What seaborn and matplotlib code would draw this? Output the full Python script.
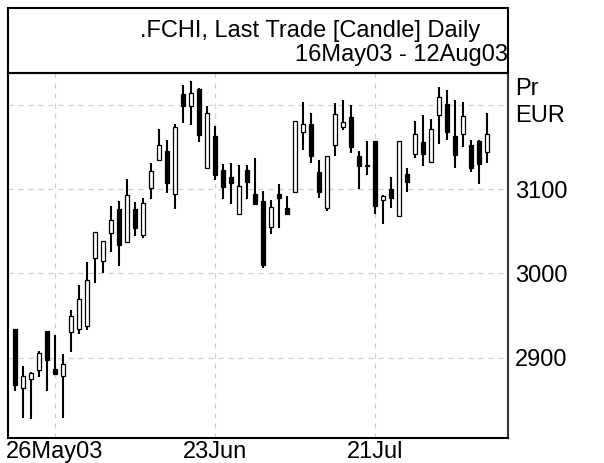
import numpy as np
import pandas as pd
import matplotlib
matplotlib.use("Agg")
import matplotlib.pyplot as plt
from matplotlib.patches import Rectangle
import seaborn as sns

# ---- data ----
opens = [2934, 2864, 2875, 2885, 2931, 2886, 2878, 2930, 2934, 2937,
         3018, 3015, 3048, 3076, 3037, 3076, 3046, 3101, 3135, 3145,
         3094, 3213, 3199, 3219, 3125, 3163, 3123, 3114, 3070, 3123,
         3094, 3086, 3055, 3094, 3078, 3097, 3168, 3178, 3120, 3078,
         3152, 3174, 3186, 3139, 3128, 3157, 3087, 3100, 3068, 3118,
         3142, 3156, 3132, 3188, 3201, 3163, 3166, 3153, 3157, 3144]
highs = [2934, 2890, 2883, 2908, 2931, 2927, 2904, 2956, 2986, 3013,
         3049, 3039, 3080, 3086, 3112, 3085, 3090, 3131, 3171, 3159,
         3178, 3224, 3228, 3220, 3199, 3175, 3130, 3131, 3129, 3129,
         3137, 3098, 3087, 3106, 3092, 3181, 3204, 3190, 3135, 3140,
         3202, 3206, 3200, 3145, 3157, 3157, 3093, 3114, 3157, 3125,
         3181, 3188, 3183, 3221, 3218, 3206, 3204, 3158, 3158, 3190]
lows = [2860, 2828, 2827, 2877, 2860, 2880, 2828, 2907, 2928, 2933,
        2989, 3001, 3025, 3009, 3037, 3044, 3042, 3088, 3133, 3096,
        3076, 3179, 3176, 3156, 3125, 3111, 3088, 3082, 3070, 3088,
        3082, 3006, 3047, 3054, 3070, 3097, 3146, 3131, 3090, 3074,
        3139, 3170, 3143, 3100, 3117, 3070, 3059, 3078, 3068, 3097,
        3137, 3128, 3132, 3154, 3158, 3125, 3150, 3120, 3106, 3131]
closes = [2867, 2878, 2882, 2905, 2897, 2881, 2892, 2949, 2970, 2992,
          3049, 3039, 3063, 3034, 3093, 3054, 3084, 3122, 3153, 3107,
          3174, 3199, 3214, 3164, 3190, 3117, 3103, 3107, 3104, 3108,
          3082, 3010, 3079, 3090, 3071, 3181, 3177, 3139, 3097, 3139,
          3189, 3180, 3150, 3128, 3128, 3080, 3092, 3089, 3157, 3109,
          3165, 3142, 3171, 3210, 3168, 3141, 3187, 3125, 3130, 3166]
dates = pd.bdate_range("2003-05-19", periods=len(opens))

xtick_dates = ["2003-05-26", "2003-06-23", "2003-07-21"]
xtick_labels = ["26May03", "23Jun", "21Jul"]
ytick_values = [2900, 3000, 3100]
ygrid_values = [2900, 3000, 3100, 3200]
unit_labels = ["Pr", "EUR"]
title_line1 = ".FCHI, Last Trade [Candle] Daily"
title_line2 = "16May03 - 12Aug03"

# ---- style ----
sns.set_theme(style="white")
plt.rcParams["font.family"] = ["Liberation Sans", "DejaVu Sans"]
plt.rcParams["text.color"] = "black"
plt.rcParams["xtick.color"] = "black"
plt.rcParams["ytick.color"] = "black"

W, H = 604, 463
fig = plt.figure(figsize=(W / 100, H / 100), dpi=100, facecolor="white")
ax_l, ax_r, ax_t, ax_b = 8, 508, 72.7, 438
ax = fig.add_axes([ax_l / W, 1 - ax_b / H, (ax_r - ax_l) / W, (ax_b - ax_t) / H])
ax.set_facecolor("white")

df = pd.DataFrame(dict(date=dates, open=opens, high=highs, low=lows, close=closes))
df["idx"] = np.arange(len(df))
up = (df["close"] >= df["open"]).to_numpy()

# gridlines
for yv in ygrid_values:
    ax.axhline(yv, color="#cfcfcf", lw=0.9, ls=(0, (4, 4)), zorder=1)
date_pos = {d: i for i, d in enumerate(dates.strftime("%Y-%m-%d"))}
xtick_pos = [date_pos[d] for d in xtick_dates]
for xv in xtick_pos:
    ax.axvline(xv, color="#cfcfcf", lw=0.9, ls=(0, (4, 4)), zorder=1)

# wicks
ax.vlines(df["idx"], df["low"], df["high"], color="black", lw=1.5, zorder=2)
# bodies
bottoms = np.minimum(df["open"], df["close"])
heights = np.maximum(np.abs(df["close"] - df["open"]), 0.6)
ax.bar(df["idx"], heights, bottom=bottoms, width=0.5,
       color=np.where(up, "white", "black"), edgecolor="black",
       linewidth=0.9, zorder=3)

ax.set_xlim(-0.875, 61.625)
ax.set_ylim(2804.5, 3238.4)

ax.set_xticks(xtick_pos)
ax.set_xticklabels(xtick_labels, fontsize=17, color="black")
ax.yaxis.tick_right()
ax.set_yticks(ytick_values)
ax.set_yticklabels([str(v) for v in ytick_values], fontsize=17, color="black")
ax.tick_params(axis="both", length=0)
ax.tick_params(axis="x", pad=2)
ax.tick_params(axis="y", pad=5)

for side, sp in ax.spines.items():
    sp.set_visible(True)
    sp.set_color("#333333")
    sp.set_linewidth(1.5)
ax.spines["left"].set_color("black")
ax.spines["bottom"].set_color("black")

# unit labels at right
fig.text(515 / W, 1 - 95 / H, unit_labels[0], fontsize=17, ha="left", va="baseline", color="black")
fig.text(515 / W, 1 - 121.7 / H, unit_labels[1], fontsize=17, ha="left", va="baseline", color="black")

# title box
fig.add_artist(Rectangle((ax_l / W, 1 - ax_t / H), (ax_r - ax_l) / W, (ax_t - 8) / H,
                         transform=fig.transFigure, fill=False, ec="black", lw=1.5))
fig.text(310 / W, 1 - 37 / H, title_line1, fontsize=17, ha="center", va="baseline", color="black")
fig.text(508 / W, 1 - 61 / H, title_line2, fontsize=17, ha="right", va="baseline", color="black")

fig.savefig("out.png", dpi=100, facecolor="white")
